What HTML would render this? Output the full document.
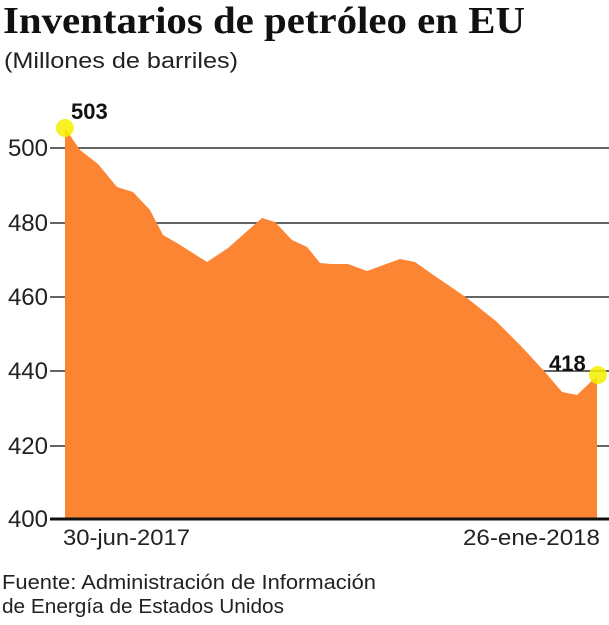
<!DOCTYPE html>
<html><head><meta charset="utf-8"><style>
body{margin:0;background:#fff;width:609px;height:620px;overflow:hidden}
</style></head><body>
<svg width="609" height="620" xmlns="http://www.w3.org/2000/svg">
<text x="3" y="33" font-family="Liberation Serif, serif" font-weight="bold" font-size="38" fill="#111" textLength="522" lengthAdjust="spacingAndGlyphs">Inventarios de petróleo en EU</text>
<text x="4" y="68" font-family="Liberation Sans, sans-serif" font-size="22" fill="#222" textLength="234" lengthAdjust="spacingAndGlyphs">(Millones de barriles)</text>
<g stroke="#333" stroke-width="1.5">
<line x1="50" y1="148" x2="609" y2="148"/>
<line x1="50" y1="223" x2="609" y2="223"/>
<line x1="50" y1="297" x2="609" y2="297"/>
<line x1="50" y1="371" x2="609" y2="371"/>
<line x1="50" y1="446" x2="609" y2="446"/>
</g>
<path d="M65,128 L80,150 L98,164 L117,187 L133,192 L150,210 L163,235 L177,243 L207,262 L228,248 L262,218 L275,222 L292,240 L307,247 L320,263 L331,264 L348,264 L367,271 L400,259 L415,262 L432,274 L467,298 L497,322 L520,345 L545,372 L562,392 L577,395 L597,376 L597,518 L65,518 Z" fill="#fb8533"/>
<line x1="50" y1="519" x2="609" y2="519" stroke="#111" stroke-width="3"/>
<circle cx="65" cy="128" r="9" fill="#f5f000" opacity="0.85"/>
<circle cx="598" cy="375" r="9" fill="#f5f000" opacity="0.85"/>
<g font-family="Liberation Sans, sans-serif" font-size="24" fill="#222" text-anchor="end">
<text x="48" y="156">500</text><text x="48" y="231">480</text><text x="48" y="305">460</text>
<text x="48" y="379">440</text><text x="48" y="454">420</text><text x="48" y="527">400</text>
</g>
<text x="71" y="119" font-family="Liberation Sans, sans-serif" font-weight="bold" font-size="22" fill="#111">503</text>
<text x="549" y="371" font-family="Liberation Sans, sans-serif" font-weight="bold" font-size="22" fill="#111">418</text>
<text x="63" y="545" font-family="Liberation Sans, sans-serif" font-size="22" fill="#222" textLength="127" lengthAdjust="spacingAndGlyphs">30-jun-2017</text>
<text x="463" y="545" font-family="Liberation Sans, sans-serif" font-size="22" fill="#222" textLength="137" lengthAdjust="spacingAndGlyphs">26-ene-2018</text>
<text x="2" y="589" font-family="Liberation Sans, sans-serif" font-size="20" fill="#222" textLength="374" lengthAdjust="spacingAndGlyphs">Fuente: Administración de Información</text>
<text x="2" y="613" font-family="Liberation Sans, sans-serif" font-size="20" fill="#222" textLength="282" lengthAdjust="spacingAndGlyphs">de Energía de Estados Unidos</text>
</svg>
</body></html>
